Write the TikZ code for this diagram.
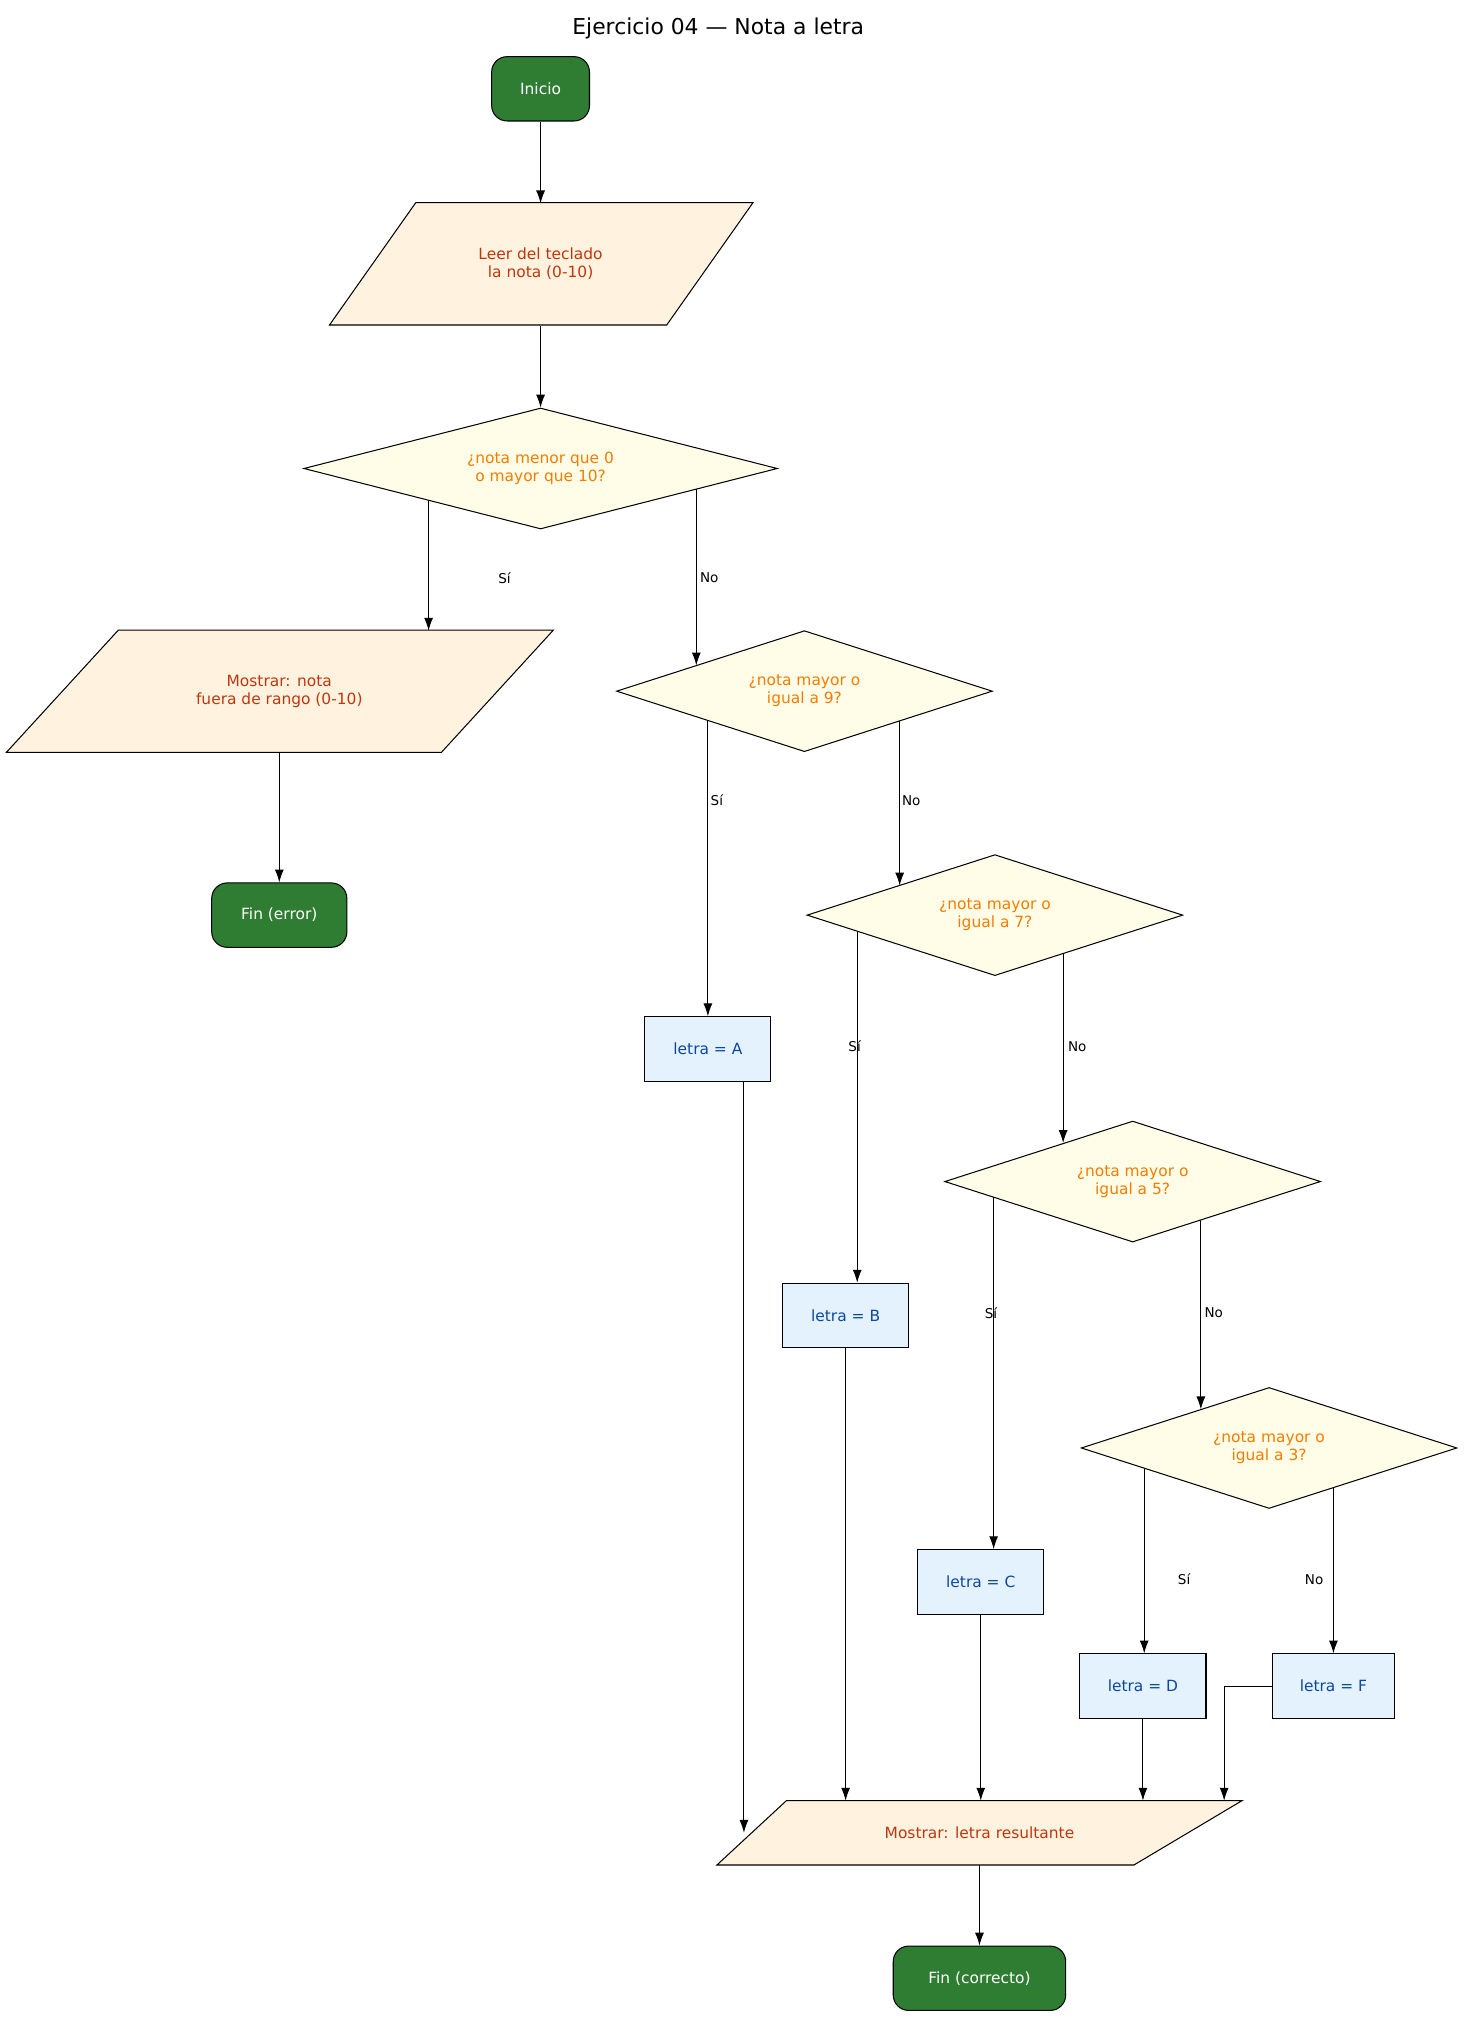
\documentclass[tikz,border=0pt]{standalone}
\usepackage{fontspec}
\setmainfont{DejaVu Sans}
\usetikzlibrary{shapes.geometric,arrows.meta}
\definecolor{termfill}{HTML}{2E7D32}
\definecolor{iofill}{HTML}{FFF3E0}
\definecolor{iotext}{HTML}{BF360C}
\definecolor{decfill}{HTML}{FFFDE7}
\definecolor{dectext}{HTML}{F57C00}
\definecolor{procfill}{HTML}{E3F2FD}
\definecolor{proctext}{HTML}{0D47A1}
\tikzset{
  term/.style={draw,rounded corners=12pt,fill=termfill,text=white,minimum height=50pt,font=\fontsize{12}{14}\selectfont},
  io/.style={text=iotext,align=center,font=\fontsize{12}{14}\selectfont},
  dec/.style={diamond,draw,fill=decfill,text=dectext,align=center,inner sep=0pt,aspect=3,font=\fontsize{12}{14}\selectfont},
  proc/.style={draw,fill=procfill,text=proctext,minimum height=50pt,font=\fontsize{12}{14}\selectfont},
  arr/.style={-{Latex[length=10pt,width=7pt]}},
  lbl/.style={font=\fontsize{10.5}{12}\selectfont}
}
% parallelogram behind a text node
\newcommand{\paral}[6]{%
  \path[draw,fill=iofill] ([shift={(#2pt,#6pt)}]#1.center) -- ([shift={(#3pt,#6pt)}]#1.center)
    -- ([shift={(#5pt,-#6pt)}]#1.center) -- ([shift={(#4pt,-#6pt)}]#1.center) -- cycle;}
\begin{document}
\begin{tikzpicture}[x=1pt,y=-1pt,line width=0.8pt]
\useasboundingbox (0,0) rectangle (1140,1571);
\node[font=\fontsize{17}{20}\selectfont] (title) at (558,22) {Ejercicio 04 — Nota a letra};
\node[term,minimum width=76pt] (ini) at (420,69) {Inicio};
% input nodes
\node[io] (leer) at (420,205) {Leer del teclado\\la nota (0-10)};
\paral{leer}{-97}{165}{-164}{98}{47.5}
\node[io] (leer) at (420,205) {Leer del teclado\\la nota (0-10)};
\node[io] (err) at (217,537) {Mostrar: nota\\fuera de rango (0-10)};
\paral{err}{-125}{213}{-212}{126}{47.5}
\node[io] (err) at (217,537) {Mostrar: nota\\fuera de rango (0-10)};
\node[io] (out) at (761,1424) {Mostrar: letra resultante};
\paral{out}{-150}{204}{-204}{120}{25}
\node[io] (out) at (761,1424) {Mostrar: letra resultante};
% decisions
\node[dec,minimum width=368pt,minimum height=94pt] (d1) at (420,364) {¿nota menor que 0\\o mayor que 10?};
\node[dec,minimum width=292pt,minimum height=94pt] (d2) at (625,537) {¿nota mayor o\\igual a 9?};
\node[dec,minimum width=292pt,minimum height=94pt] (d3) at (773,711) {¿nota mayor o\\igual a 7?};
\node[dec,minimum width=292pt,minimum height=94pt] (d4) at (880,918) {¿nota mayor o\\igual a 5?};
\node[dec,minimum width=292pt,minimum height=94pt] (d5) at (986,1125) {¿nota mayor o\\igual a 3?};
\node[term,minimum width=105pt] (finerr) at (217,711) {Fin (error)};
\node[proc,minimum width=98pt] (la) at (550,815) {letra = A};
\node[proc,minimum width=98pt] (lb) at (657,1022) {letra = B};
\node[proc,minimum width=98pt] (lc) at (762,1229) {letra = C};
\node[proc,minimum width=98pt] (ld) at (888,1310) {letra = D};
\node[proc,minimum width=95pt] (lf) at (1036,1310) {letra = F};
\node[term,minimum width=134pt] (fin) at (761,1537) {Fin (correcto)};
% connectors
\draw[arr] (ini) -- (leer.center |- 0,158);
\draw[arr] (leer.center |- 0,253) -- (d1);
\coordinate (d1l) at ([xshift=-87pt,yshift=-25pt]d1.center);
\coordinate (d1r) at ([xshift=121pt,yshift=-16pt]d1.center);
\coordinate (d2t) at ([xshift=-84pt,yshift=20pt]d2.center);
\draw[arr] (d1l) -- (d1l |- 0,490);
\draw[arr] (d1r) -- (d2t);
\node[lbl] (s1) at (392,449) {Sí};
\node[lbl] (n1) at (551,449) {No};
\draw[arr] (err.center |- 0,585) -- (finerr);
\coordinate (d2l) at ([xshift=-75pt,yshift=-23pt]d2.center);
\coordinate (d2r) at ([xshift=74pt,yshift=-23pt]d2.center);
\coordinate (d3t) at ([xshift=-74pt,yshift=23pt]d3.center);
\draw[arr] (d2l) -- (la);
\draw[arr] (d2r) -- (d3t);
\node[lbl] (s2) at (557,622) {Sí};
\node[lbl] (n2) at (708,622) {No};
\coordinate (d3l) at ([xshift=-107pt,yshift=-13pt]d3.center);
\coordinate (d3r) at ([xshift=53pt,yshift=-30pt]d3.center);
\coordinate (d4t) at ([xshift=-54pt,yshift=30pt]d4.center);
\draw[arr] (d3l) -- (d3l |- lb.north);
\draw[arr] (d3r) -- (d4t);
\node[lbl] (s3) at (664,813) {Sí};
\node[lbl] (n3) at (837,813) {No};
\coordinate (d4l) at ([xshift=-108pt,yshift=-12pt]d4.center);
\coordinate (d4r) at ([xshift=53pt,yshift=-30pt]d4.center);
\coordinate (d5t) at ([xshift=-53pt,yshift=30pt]d5.center);
\draw[arr] (d4l) -- (d4l |- lc.north);
\draw[arr] (d4r) -- (d5t);
\node[lbl] (s4) at (770,1020) {Sí};
\node[lbl] (n4) at (943,1020) {No};
\coordinate (d5l) at ([xshift=-97pt,yshift=-16pt]d5.center);
\coordinate (d5r) at ([xshift=50pt,yshift=-31pt]d5.center);
\draw[arr] (d5l) -- (d5l |- ld.north);
\draw[arr] (d5r) -- (d5r |- lf.north);
\node[lbl] (s5) at (920,1227) {Sí};
\node[lbl] (n5) at (1021,1227) {No};
\coordinate (ae) at ([xshift=28pt]la.south);
\draw[arr] (ae) -- (ae |- out.center);
\draw[arr] (lb) -- (lb |- 0,1399);
\draw[arr] (lc) -- (lc |- 0,1399);
\draw[arr] (ld) -- (ld |- 0,1399);
\coordinate (fk) at ([xshift=-37pt]lf.west);
\draw[arr] (lf.west) -- (fk) -- (fk |- 0,1399);
\draw[arr] (out.center |- 0,1449) -- (fin);
\end{tikzpicture}
\end{document}
